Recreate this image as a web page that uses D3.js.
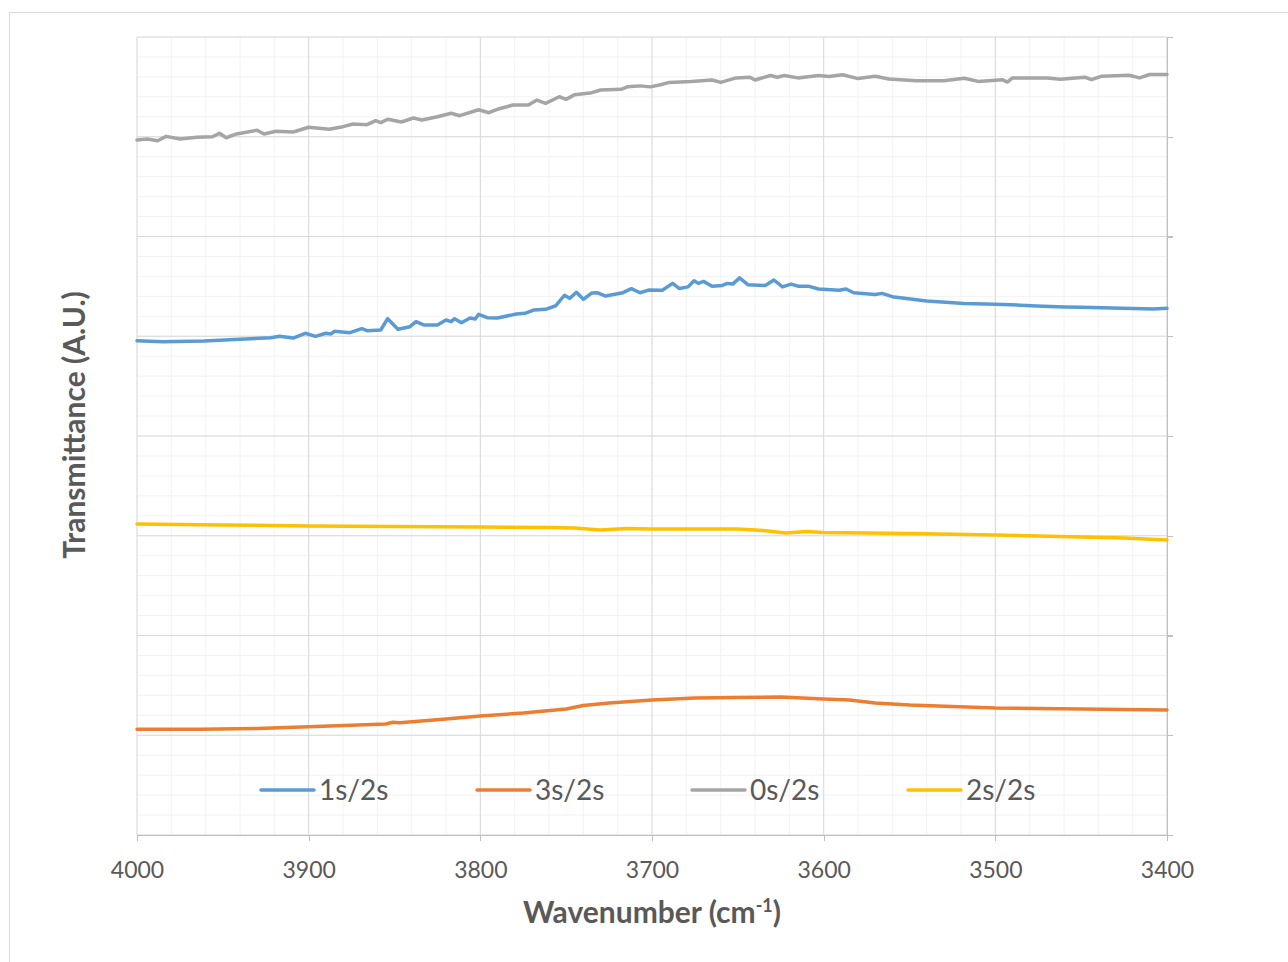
<!DOCTYPE html>
<head>
  <style>
  body { margin: 0; background: #fff; }
  .grid-minor line { stroke: #f2f2f2; stroke-width: 1; }
  .grid-major line { stroke: #d9d9d9; stroke-width: 1; }
  .axis path, .axis line { fill: none; stroke: #bfbfbf; stroke-width: 1.3; shape-rendering: crispEdges; }
  .axis text { font-family: Lato; font-size: 23px; fill: #595959; }
  .title { font-family: Lato; font-weight: bold; font-size: 30px; fill: #595959; }
  .legend text { font-family: Lato; font-size: 28px; fill: #595959; }
  </style>
</head>
<body>
<svg width="1288" height="962"></svg>
<script src="https://cdnjs.cloudflare.com/ajax/libs/d3/7.8.5/d3.min.js"></script>
<script>

// series names, in legend order
var seriesNames = ["1s/2s", "3s/2s", "0s/2s", "2s/2s"];
var seriesColors = ["#5B9BD5", "#ED7D31", "#A5A5A5", "#FFC000"];

var xTicks = [4000, 3900, 3800, 3700, 3600, 3500, 3400];

// [wavenumber, transmittance (A.U.)]
var s1 = [
  [4000, 495.5], [3985, 494.5], [3961, 495.2], [3940, 496.9], [3922, 498.5], [3917, 499.9],
  [3909, 498.2], [3902, 503.0], [3896, 499.9], [3890, 503.0], [3887, 502.3], [3885, 505.0],
  [3876, 503.6], [3869, 507.6], [3866, 505.6], [3858, 506.3], [3854, 517.6], [3848, 507.0],
  [3841, 509.6], [3837.5, 514.6], [3833, 511.3], [3825, 511.3], [3820, 516.3], [3817, 514.6],
  [3815, 517.6], [3811, 513.6], [3806, 518.3], [3803, 517.3], [3801, 522.0], [3796, 518.6],
  [3790, 518.3], [3779, 522.3], [3774, 523.0], [3769, 526.3], [3762, 527.0], [3756, 530.6],
  [3751, 541.1], [3748, 538.0], [3744, 544.1], [3740, 537.0], [3735, 543.4], [3732, 543.7],
  [3727, 540.3], [3717, 543.7], [3712, 547.7], [3707, 543.6], [3702, 546.3], [3694, 546.1],
  [3688, 553.0], [3684, 547.8], [3679, 549.5], [3675.5, 555.7], [3673, 553.0], [3670, 555.0],
  [3665, 550.2], [3659, 550.9], [3656, 553.0], [3653, 552.3], [3649, 558.5], [3644, 551.6],
  [3634, 550.9], [3629, 556.4], [3624, 549.5], [3619, 552.3], [3615, 550.2], [3609, 550.2],
  [3603, 547.4], [3591, 546.1], [3587, 547.4], [3582.5, 543.6], [3570, 541.9], [3566, 543.0],
  [3560, 539.7], [3546, 536.6], [3540, 535.3], [3518, 532.9], [3500, 532.2], [3476, 530.4],
  [3460, 529.4], [3450, 529.1], [3426, 528.0], [3408, 527.3], [3400, 528.0]
];

var s3 = [
  [4000, 106.0], [3963, 106.0], [3930, 106.8], [3900, 108.6], [3855, 111.3], [3851, 113.0],
  [3847, 112.6], [3820, 116.3], [3800, 119.3], [3775, 122.3], [3750, 126.3], [3740, 129.8],
  [3725, 132.3], [3700, 135.3], [3675, 137.3], [3650, 137.8], [3625, 138.3], [3600, 136.3],
  [3585, 135.3], [3570, 132.3], [3550, 130.3], [3500, 127.3], [3450, 126.3], [3400, 125.3]
];

var s0 = [
  [4000, 696.7], [3994, 697.7], [3988, 696.0], [3983, 700.4], [3975, 697.7], [3965, 699.4],
  [3956, 700.0], [3952, 703.5], [3948, 699.0], [3942, 702.8], [3930, 706.5], [3926, 702.8],
  [3919, 705.5], [3909, 704.8], [3900, 709.5], [3894, 708.5], [3888, 707.5], [3880, 710.1],
  [3874, 712.8], [3866, 712.1], [3861, 716.1], [3858, 714.1], [3854, 717.5], [3846, 714.8],
  [3839, 718.8], [3834, 716.8], [3825, 720.1], [3817, 723.5], [3812, 721.1], [3801, 727.1],
  [3795, 724.1], [3789, 728.1], [3781, 731.8], [3772, 731.8], [3767, 736.8], [3762, 733.5],
  [3754, 740.1], [3750, 737.5], [3745, 742.2], [3735, 744.2], [3730, 746.9], [3718, 747.6],
  [3714, 750.2], [3707, 751.0], [3701, 750.0], [3695, 752.1], [3690, 754.5], [3677, 755.5],
  [3665, 756.9], [3660, 754.5], [3651, 759.0], [3643, 759.7], [3640, 756.9], [3631, 761.4],
  [3627, 759.7], [3623, 761.4], [3615, 759.0], [3603, 761.4], [3597, 760.3], [3589, 762.1],
  [3580, 758.3], [3570, 760.7], [3562, 757.9], [3546, 756.2], [3530, 756.2], [3518, 758.6],
  [3510, 755.5], [3496, 757.2], [3493, 754.8], [3490, 759.0], [3470, 759.0], [3462, 757.6],
  [3448, 759.7], [3444, 757.2], [3438, 760.7], [3422, 761.7], [3416, 759.0], [3410, 762.4],
  [3400, 762.4]
];

var s2 = [
  [4000, 311.8], [3950, 310.8], [3900, 309.8], [3850, 309.3], [3800, 308.8], [3760, 308.3],
  [3745, 307.8], [3730, 305.8], [3715, 307.3], [3700, 306.8], [3650, 306.8], [3635, 305.3],
  [3622, 302.8], [3610, 304.3], [3600, 303.3], [3550, 302.3], [3500, 300.8], [3475, 299.8],
  [3450, 298.8], [3425, 297.8], [3400, 295.7]
];

var seriesData = [s1, s3, s0, s2];

var svg = d3.select("svg"),
    margin = {top: 37, right: 121, bottom: 127, left: 137},
    width = +svg.attr("width") - margin.left - margin.right,
    height = +svg.attr("height") - margin.top - margin.bottom;

// outer chart border
svg.append("rect")
    .attr("x", 9.5).attr("y", 12.5)
    .attr("width", 1300).attr("height", 970)
    .attr("fill", "none")
    .attr("stroke", "#d9d9d9");

var g = svg.append("g").attr("transform", "translate(" + margin.left + "," + margin.top + ")");

var x = d3.scaleLinear().domain([4000, 3400]).range([0, width]);
var y = d3.scaleLinear().domain([0, 800]).range([height, 0]);

// minor grid
var minorX = d3.range(3400, 4001, 20), minorY = d3.range(0, 801, 20);
var gm = g.append("g").attr("class", "grid-minor");
gm.selectAll(".vx").data(minorX).enter().append("line")
    .attr("x1", function(d) { return x(d); }).attr("x2", function(d) { return x(d); })
    .attr("y1", 0).attr("y2", height);
gm.selectAll(".hy").data(minorY).enter().append("line")
    .attr("y1", function(d) { return y(d); }).attr("y2", function(d) { return y(d); })
    .attr("x1", 0).attr("x2", width);

// major grid
var gM = g.append("g").attr("class", "grid-major");
gM.selectAll(".vx").data(xTicks).enter().append("line")
    .attr("x1", function(d) { return x(d); }).attr("x2", function(d) { return x(d); })
    .attr("y1", 0).attr("y2", height);
gM.selectAll(".hy").data(d3.range(0, 801, 100)).enter().append("line")
    .attr("y1", function(d) { return y(d); }).attr("y2", function(d) { return y(d); })
    .attr("x1", 0).attr("x2", width);

// axes
g.append("g")
    .attr("class", "axis axis--x")
    .attr("transform", "translate(0," + height + ")")
    .call(d3.axisBottom(x).tickValues(xTicks).tickSize(6).tickSizeOuter(0).tickPadding(21).tickFormat(d3.format("d")));

g.append("g")
    .attr("class", "axis axis--y")
    .attr("transform", "translate(" + width + ",0)")
    .call(d3.axisRight(y).ticks(8).tickSize(6).tickSizeOuter(0).tickFormat(""));

// lines
var line = d3.line()
    .x(function(d) { return x(d[0]); })
    .y(function(d) { return y(d[1]); });

g.selectAll(".serie")
    .data(seriesData)
    .enter().append("path")
        .attr("class", "serie")
        .attr("fill", "none")
        .attr("stroke", function(d, i) { return seriesColors[i]; })
        .attr("stroke-width", 3.5)
        .attr("stroke-linejoin", "round")
        .attr("stroke-linecap", "round")
        .attr("d", line);

// legend
var legendX = [261, 477, 692, 908];
var legend = svg.append("g").attr("class", "legend")
    .selectAll("g")
    .data(seriesNames)
    .enter().append("g")
        .attr("transform", function(d, i) { return "translate(" + legendX[i] + ",790)"; });

legend.append("line")
    .attr("x1", 0).attr("x2", 53)
    .attr("stroke", function(d, i) { return seriesColors[i]; })
    .attr("stroke-width", 3.5)
    .attr("stroke-linecap", "round");

legend.append("text")
    .attr("x", 58)
    .attr("y", 10)
    .text(function(d) { return d; });

// axis titles
var xt = svg.append("text")
    .attr("class", "title")
    .attr("x", 652)
    .attr("y", 923)
    .attr("text-anchor", "middle");
xt.append("tspan").text("Wavenumber (cm");
xt.append("tspan").attr("font-size", "18px").attr("dy", -11).text("-1");
xt.append("tspan").attr("dy", 11).text(")");

svg.append("text")
    .attr("class", "title")
    .attr("transform", "translate(85,425) rotate(-90)")
    .attr("text-anchor", "middle")
    .text("Transmittance (A.U.)");

</script>
</body>
